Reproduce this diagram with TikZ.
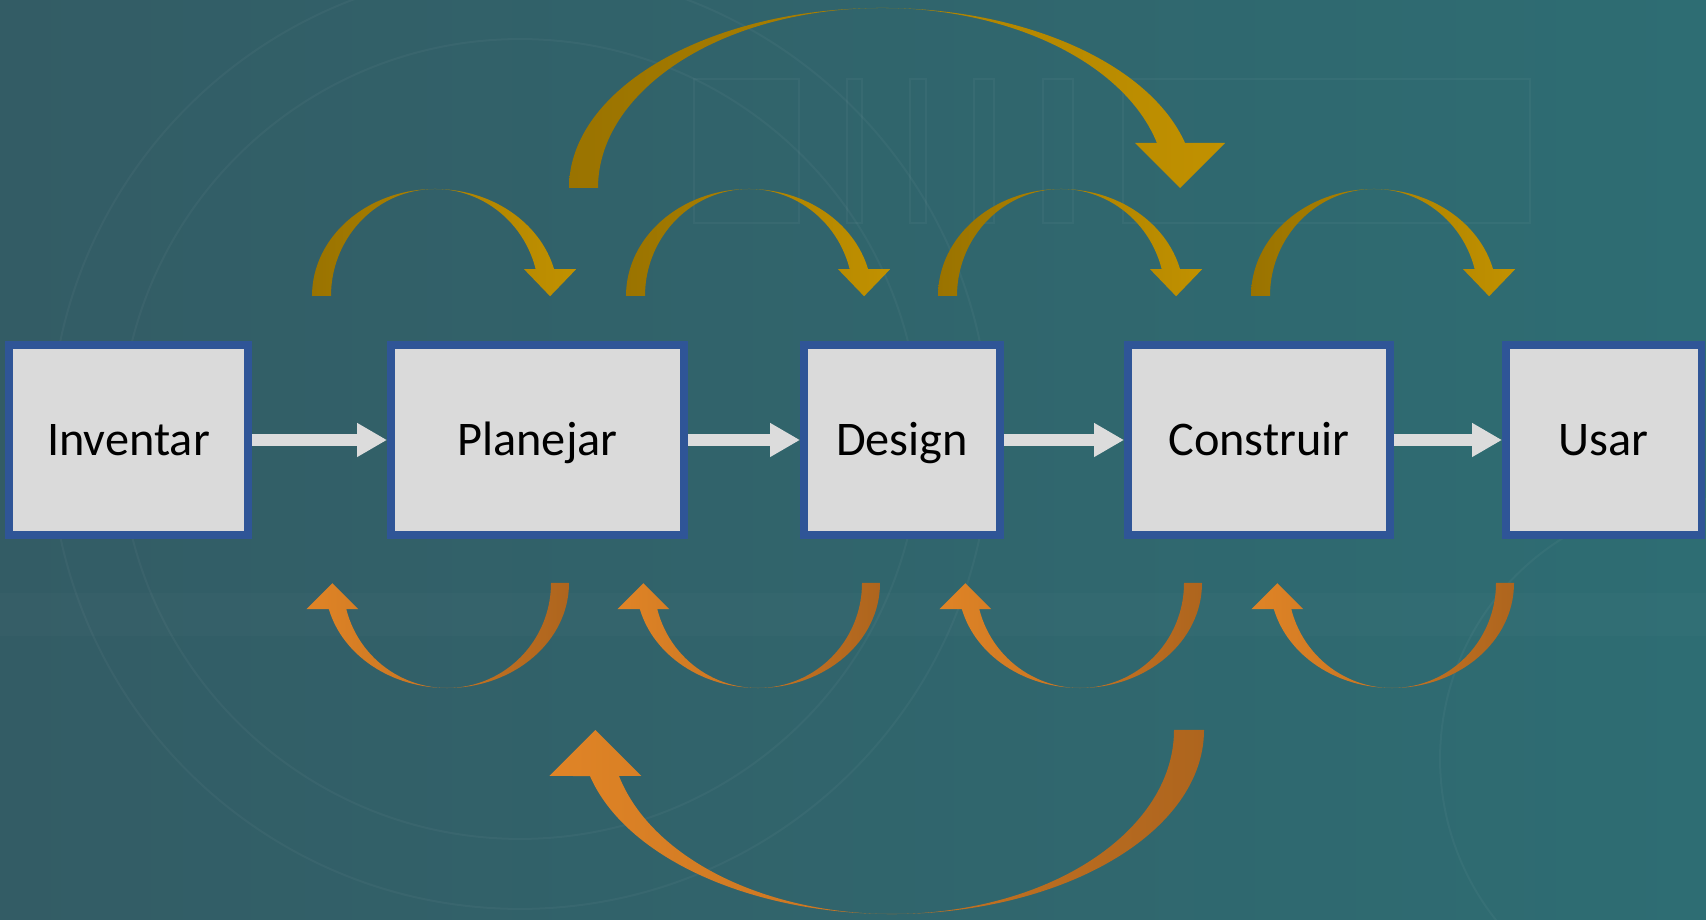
\documentclass[tikz,border=0pt]{standalone}
\usepackage{fontspec}
\setmainfont{Carlito}
\usetikzlibrary{arrows.meta}
\usetikzlibrary{shadows}

\definecolor{bgleft}{HTML}{335C65}
\definecolor{bgright}{HTML}{2E6D73}
\definecolor{boxfill}{HTML}{DADADA}
\definecolor{boxline}{HTML}{2F5597}
\definecolor{flowcol}{HTML}{DCDCDC}
\definecolor{golddark}{HTML}{9A7300}
\definecolor{goldlight}{HTML}{C19100}
\definecolor{orangelight}{HTML}{E08426}
\definecolor{orangedark}{HTML}{AE651E}

% curved arrow over the row: centre x, centre y, outer a, inner a, b, head half width, head length
\newcommand{\overarc}[7]{%
\shade[left color=golddark, right color=goldlight]
  ({#1-#3},#2) arc[start angle=180, end angle=14.48, x radius={#3*0.02cm}, y radius={#5*0.02cm}]
  -- ({#1+0.4841*(#3+#4)+0.2*#6+#6},{#2+0.25*#5})
  -- ({#1+0.4841*(#3+#4)+0.2*#6},{#2+0.25*#5-#7})
  -- ({#1+0.4841*(#3+#4)+0.2*#6-#6},{#2+0.25*#5})
  -- ({#1+0.9682*#4},{#2+0.25*#5})
  arc[start angle=14.48, end angle=180, x radius={#4*0.02cm}, y radius={#5*0.02cm}] -- cycle;}
% curved arrow under the row
\newcommand{\underarc}[7]{%
\shade[left color=orangelight, right color=orangedark]
  ({#1+#3},#2) arc[start angle=0, end angle=-165.52, x radius={#3*0.02cm}, y radius={#5*0.02cm}]
  -- ({#1-0.4841*(#3+#4)-0.2*#6-#6},{#2-0.25*#5})
  -- ({#1-0.4841*(#3+#4)-0.2*#6},{#2-0.25*#5+#7})
  -- ({#1-0.4841*(#3+#4)-0.2*#6+#6},{#2-0.25*#5})
  -- ({#1-0.9682*#4},{#2-0.25*#5})
  arc[start angle=-165.52, end angle=0, x radius={#4*0.02cm}, y radius={#5*0.02cm}] -- cycle;}

\begin{document}
\begin{tikzpicture}[x=0.02cm, y=0.02cm,
box/.style={draw=boxline, fill=boxfill, line width=0.15cm, minimum height=3.81cm,
  inner sep=0pt, text height=17.6pt, text depth=0pt, font=\fontsize{27.5}{32}\selectfont,
  drop shadow={shadow xshift=0.07cm, shadow yshift=-0.07cm, opacity=0.35}},
flow/.style={draw=flowcol, line width=0.23cm, -{Triangle[length=0.6cm, width=0.64cm]}},
deco/.style={draw=white, opacity=0.035, line width=0.04cm}]
\useasboundingbox (0,0) rectangle (1706,919);
\shade[left color=bgleft, right color=bgright] (0,0) rectangle (1706,919);
\draw[deco] (520,480) circle (9.4cm);
\draw[deco] (520,480) circle (8cm);
\draw[deco] (1700,160) circle (5.2cm);
\foreach \x/\w in {694/105, 847/15, 910/16, 974/20, 1043/30}
  \draw[deco] (\x,696) rectangle ++(\w,144);
\draw[deco] (1123,696) rectangle (1530,840);
\fill[white, opacity=0.015] (0,283) rectangle (1706,326);

\node[box, minimum width=4.79cm] (inv) at (128.5,479) {Inventar};
\node[box, minimum width=5.87cm] (plan) at (537.5,479) {Planejar};
\node[box, minimum width=3.93cm] (des) at (902,479) {Design};
\node[box, minimum width=5.25cm] (con) at (1259,479) {Construir};
\node[box, minimum width=3.91cm] (usar) at (1603.5,479) {Usar};
\draw[flow] (inv) -- (plan);
\draw[flow] (plan) -- (des);
\draw[flow] (des) -- (con);
\draw[flow] (con) -- (usar);

\foreach \cx in {435,749,1061,1374} {\overarc{\cx}{623}{123}{104}{107}{26}{27}}
\overarc{882}{731}{313}{284}{180}{45}{45}
\foreach \cx in {447,758,1080,1392} {\underarc{\cx}{336}{122}{104}{105}{26}{26}}
\underarc{892}{189}{312}{282}{184}{46}{46}
\end{tikzpicture}
\end{document}
